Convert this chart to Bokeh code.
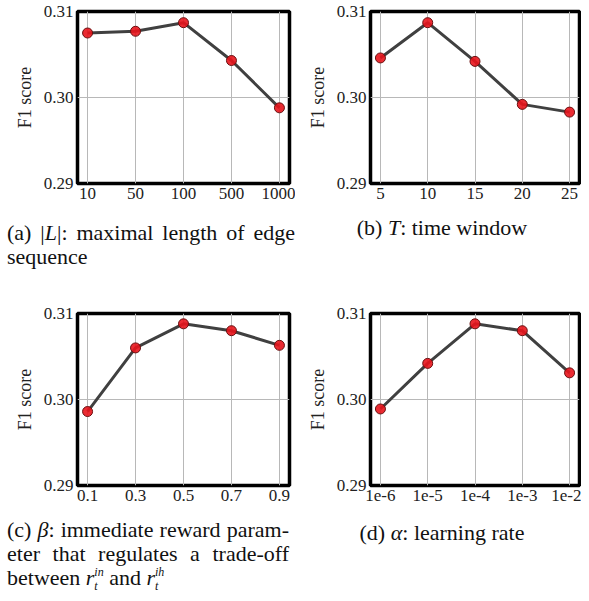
from bokeh.plotting import figure
from bokeh.models import Range1d, FixedTicker, Div
from bokeh.layouts import column, row
from bokeh.embed import file_html
from bokeh.resources import INLINE

# ---- data ----
x_a = ["10", "50", "100", "500", "1000"]
f1_a = [0.3075, 0.3077, 0.3087, 0.3043, 0.2988]
x_b = ["5", "10", "15", "20", "25"]
f1_b = [0.3046, 0.3087, 0.3042, 0.2992, 0.2983]
x_c = ["0.1", "0.3", "0.5", "0.7", "0.9"]
f1_c = [0.2986, 0.3060, 0.3088, 0.3080, 0.3063]
x_d = ["1e-6", "1e-5", "1e-4", "1e-3", "1e-2"]
f1_d = [0.2989, 0.3042, 0.3088, 0.3080, 0.3031]
y_ticks = [0.29, 0.30, 0.31]
y_tick_labels = ["0.29", "0.30", "0.31"]
y_label = "F1 score"

FONT = "Liberation Serif"


def panel(labels, vals, width, left, right):
    p = figure(width=width, height=209, output_backend="svg", toolbar_location=None,
               min_border_left=left, min_border_right=right,
               min_border_top=11, min_border_bottom=26)
    n = len(labels)
    xs = list(range(n))
    p.x_range = Range1d(-0.21, n - 1 + 0.21)
    p.y_range = Range1d(y_ticks[0], y_ticks[-1])
    p.xaxis.ticker = FixedTicker(ticks=xs)
    p.xaxis.major_label_overrides = {i: l for i, l in zip(xs, labels)}
    p.yaxis.ticker = FixedTicker(ticks=y_ticks)
    p.yaxis.major_label_overrides = {t: l for t, l in zip(y_ticks, y_tick_labels)}
    p.yaxis.axis_label = y_label
    for ax in (p.xaxis[0], p.yaxis[0]):
        ax.axis_line_color = None
        ax.major_tick_line_color = None
        ax.minor_tick_line_color = None
        ax.major_tick_in = 0
        ax.major_tick_out = 0
        ax.major_label_text_font = FONT
        ax.major_label_text_font_size = "17px"
        ax.major_label_text_color = "#222222"
        ax.major_label_standoff = 4
    p.yaxis.axis_label_text_font = FONT
    p.yaxis.axis_label_text_font_size = "18px"
    p.yaxis.axis_label_text_font_style = "normal"
    p.yaxis.axis_label_text_color = "#222222"
    p.yaxis.axis_label_standoff = 6
    p.grid.grid_line_color = "#b8b8b8"
    p.grid.grid_line_width = 1
    p.outline_line_color = "black"
    p.outline_line_width = 3.5
    p.line(xs, vals, line_color="#404040", line_width=3)
    p.scatter(xs, vals, size=10, fill_color="#e8141c", fill_alpha=0.9,
              line_color="#6a1010", line_width=1)
    return p


def caption(lines, width, height, pad_top, pad_left=0, center=False, text_w=None):
    tw = text_w if text_w else width - pad_left
    parts = []
    for i, ln in enumerate(lines):
        if center:
            parts.append(f'<div style="text-align:center;white-space:nowrap;">{ln}</div>')
        elif i < len(lines) - 1:
            parts.append(f'<div style="text-align:justify;text-align-last:justify;">{ln}</div>')
        else:
            parts.append(f'<div style="text-align:left;white-space:nowrap;">{ln}</div>')
    html = (f'<div style="font-family:\'{FONT}\',serif;font-size:22px;line-height:23.5px;color:#111;'
            f'padding-top:{pad_top}px;padding-left:{pad_left}px;width:{tw}px;">'
            + "".join(parts) + "</div>")
    return Div(text=html, width=width, height=height, margin=(0, 0, 0, 0))


fa = panel(x_a, f1_a, 295, 77, 6)
fb = panel(x_b, f1_b, 286, 75, 2)
fc = panel(x_c, f1_c, 295, 77, 6)
fd = panel(x_d, f1_d, 286, 75, 2)

rt = ('<i>r</i><span style="display:inline-block;vertical-align:-5px;line-height:14px;'
      'font-size:12px;text-align:left;"><i>{}</i><br><i>t</i></span>')

da = caption(["(a) |<i>L</i>|: maximal length of edge", "sequence"], 303, 93, 12,
             pad_left=7, text_w=295)
db = caption(["(b) <i>T</i>: time window"], 278, 93, 7, pad_left=12, center=True)
dc = caption(["(c) <i>β</i>: immediate reward param-",
              "eter that regulates a trade-off",
              "between " + rt.format("in") + " and " + rt.format("ih")], 303, 82, 7,
             pad_left=7, text_w=289)
dd = caption(["(d) <i>α</i>: learning rate"], 278, 82, 10, pad_left=12, center=True)

p = column(row(fa, fb), row(da, db), row(fc, fd), row(dc, dd))

open("out.html", "w").write(file_html(p, INLINE))
